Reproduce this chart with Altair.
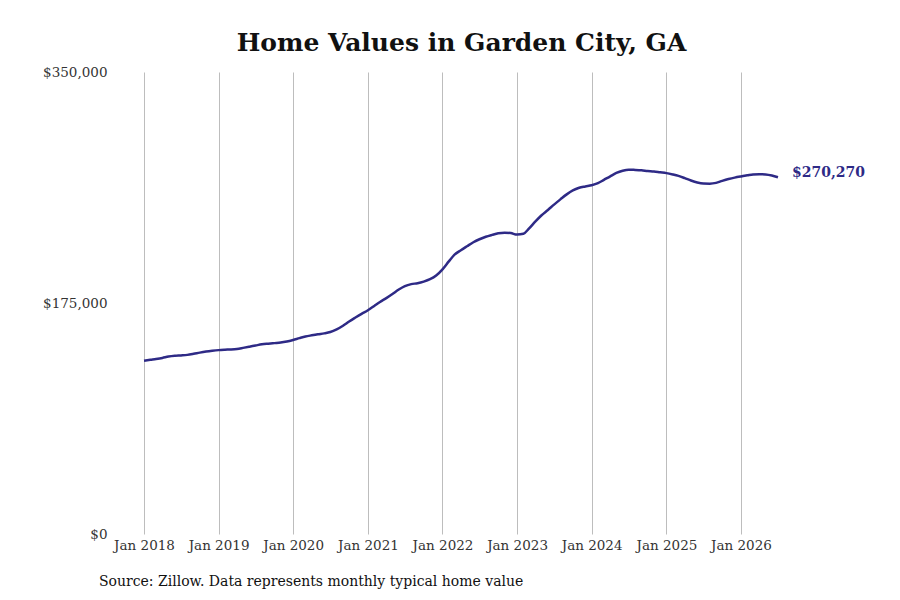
import altair as alt
import pandas as pd

years = [2018, 2019, 2020, 2021, 2022, 2023, 2024, 2025, 2026]

values_k = [
    # 2018
    131.3, 132.0, 132.6, 133.4, 134.4, 135.0, 135.3, 135.7, 136.5, 137.4, 138.2, 138.8,
    # 2019
    139.3, 139.6, 139.8, 140.2, 141.0, 141.9, 142.8, 143.7, 144.2, 144.6, 145.0, 145.8,
    # 2020
    147.0, 148.4, 149.6, 150.5, 151.3, 152.0, 153.0, 155.0, 157.8, 161.0, 164.0, 166.8,
    # 2021
    169.5, 172.8, 175.8, 178.7, 181.8, 185.2, 187.8, 189.3, 190.0, 191.2, 193.0, 195.8,
    # 2022
    200.5, 206.5, 211.6, 215.0, 218.0, 221.0, 223.3, 225.2, 226.6, 227.8, 228.3, 228.0,
    # 2023
    226.8, 227.4, 231.5, 236.8, 241.5, 245.5, 249.5, 253.5, 257.3, 260.3, 262.3, 263.3,
    # 2024
    264.2, 265.8, 268.3, 271.0, 273.5, 275.2, 276.0, 275.8, 275.5, 275.0, 274.6, 274.0,
    # 2025
    273.4, 272.4, 271.3, 269.6, 267.8, 266.3, 265.5, 265.4, 266.0, 267.5, 268.9, 270.0,
    # 2026
    270.9, 271.7, 272.4, 272.6, 272.4, 271.6, 270.27,
]

dates = []
for i in range(len(values_k)):
    y = 2018 + i // 12
    m = i % 12 + 1
    dates.append(f"{y}-{m:02d}-01T00:00:00")

df = pd.DataFrame({"date": dates, "value": [v * 1000 for v in values_k]})
last = df.iloc[[-1]].copy()
last["label"] = last["value"].map(lambda v: f"${v:,.0f}")

title_text = "Home Values in Garden City, GA"
source_text = "Source: Zillow. Data represents monthly typical home value"

LINE = "#2e2a86"
FONT = "DejaVu Serif"

x_enc = alt.X(
    "date:T",
    title=None,
    scale=alt.Scale(domain=[alt.DateTime(year=2017, month=8, date=12),
                            alt.DateTime(year=2026, month=11, date=25)]),
    axis=alt.Axis(
        values=[alt.DateTime(year=y, month=1, date=1) for y in years],
        format="%b %Y",
        labelFont=FONT, labelFontSize=13.5, labelColor="#333333",
        labelPadding=4, ticks=False, domain=False,
        grid=True, gridColor="#bdbdbd", gridWidth=1,
    ),
)
y_enc = alt.Y(
    "value:Q",
    title=None,
    scale=alt.Scale(domain=[0, 350000]),
    axis=alt.Axis(
        values=[0, 175000, 350000], format="$,.0f",
        labelFont=FONT, labelFontSize=13.5, labelColor="#333333",
        labelPadding=8, ticks=False, domain=False, grid=False,
    ),
)

base = alt.Chart(df)
line = base.mark_line(color=LINE, strokeWidth=2.5, interpolate="monotone").encode(x=x_enc, y=y_enc)

end_label = alt.Chart(last).mark_text(
    align="left", baseline="middle", dx=14, dy=-4,
    font=FONT, fontSize=14, fontWeight="bold", color=LINE,
).encode(x="date:T", y="value:Q", text="label:N")

source = alt.Chart(pd.DataFrame({"t": [source_text]})).mark_text(
    align="left", baseline="middle", font=FONT, fontSize=14, color="#111111",
).encode(x=alt.value(-16), y=alt.value(510), text="t:N")

chart = alt.layer(line, end_label, source).properties(
    width=693, height=462,
    title=alt.TitleParams(title_text, font=FONT, fontSize=25, fontWeight="bold",
                          color="#111111", anchor="middle", frame="group", offset=9),
    autosize=alt.AutoSizeParams(type="none"),
    padding={"left": 107, "top": 64, "right": 84, "bottom": 58},
).configure_view(stroke=None)

chart.save("out.html", embed_options={"renderer": "svg", "actions": False})
